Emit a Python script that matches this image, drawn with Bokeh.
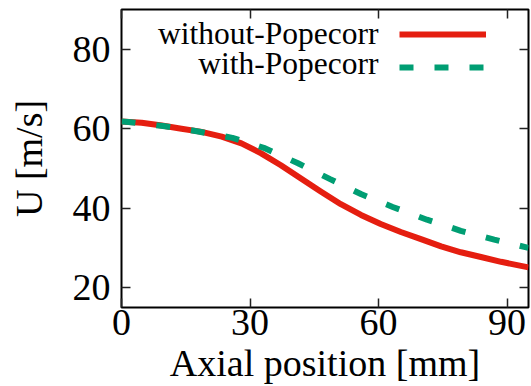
from bokeh.plotting import figure
from bokeh.models import Range1d, LinearAxis, FixedTicker, Label, Legend, LegendItem
from bokeh.embed import file_html
from bokeh.resources import INLINE

# data
x_without = [0, 4.7, 9.4, 14.0, 18.7, 23.4, 28.0, 32.6, 37.2, 41.8, 46.5, 51.2,
             55.9, 60.5, 65.2, 69.9, 74.6, 79.2, 83.9, 88.6, 95.0]
u_without = [61.8, 61.5, 60.8, 60.0, 59.2, 58.0, 56.3, 53.8, 50.8, 47.5, 44.2, 41.0,
             38.3, 36.0, 34.0, 32.2, 30.4, 28.9, 27.7, 26.5, 25.1]
x_with = [0, 1.6, 9.7, 17.9, 25.9, 33.2, 41.2, 48.7, 56.0, 63.3, 71.3, 79.2, 87.0, 95.0]
u_with = [61.8, 61.7, 60.7, 59.3, 57.7, 55.2, 51.3, 47.3, 43.5, 40.3, 37.1, 34.3, 32.1, 30.0]
x_ticks = [0, 30, 60, 90]
y_ticks = [20, 40, 60, 80]
series_names = ["without-Popecorr", "with-Popecorr"]

RED = "#e51e10"
GREEN = "#009e73"
FONT = "Liberation Serif"

p = figure(width=531, height=386, output_backend="svg", toolbar_location=None,
           x_range=Range1d(0, 95), y_range=Range1d(15, 90),
           min_border_left=121, min_border_right=3, min_border_top=9, min_border_bottom=77)
p.grid.visible = False
p.outline_line_color = "black"
p.outline_line_width = 2
p.background_fill_color = "white"
p.border_fill_color = "white"

for ax, ticks in ((p.xaxis[0], x_ticks), (p.yaxis[0], y_ticks)):
    ax.ticker = FixedTicker(ticks=ticks)
    ax.major_tick_in = 9
    ax.major_tick_out = 0
    ax.minor_tick_line_color = None
    ax.axis_line_color = None
    ax.major_tick_line_color = "#222222"
    ax.major_tick_line_width = 1.5
    ax.major_label_text_font = FONT
    ax.major_label_text_font_size = "38px"
    ax.major_label_text_color = "black"
    ax.axis_label_text_font = FONT
    ax.axis_label_text_font_style = "normal"
    ax.axis_label_text_font_size = "38px"
    ax.axis_label_text_color = "black"

p.xaxis.axis_label = "Axial position [mm]"
p.yaxis.axis_label = "U [m/s]"
p.xaxis.major_label_standoff = 2
p.xaxis.axis_label_standoff = 4
p.yaxis.major_label_standoff = 11
p.yaxis.axis_label_standoff = 20

# mirrored ticks
for loc, ticks in (("above", x_ticks), ("right", y_ticks)):
    ax = LinearAxis(ticker=FixedTicker(ticks=ticks))
    ax.major_tick_in = 9
    ax.major_tick_out = 0
    ax.minor_tick_line_color = None
    ax.axis_line_color = None
    ax.major_tick_line_color = "#222222"
    ax.major_tick_line_width = 1.5
    ax.major_label_text_font_size = "0px"
    ax.major_label_standoff = 0
    ax.major_label_text_alpha = 0
    p.add_layout(ax, loc)

r1 = p.line(x_without, u_without, line_color=RED, line_width=6, line_join="round")
r2 = p.line(x_with, u_with, line_color=GREEN, line_width=6, line_dash="14 21")

legend = Legend(items=[LegendItem(label=" ", renderers=[r1]),
                       LegendItem(label=" ", renderers=[r2])],
                location=(278, 230), orientation="vertical",
                glyph_width=87, glyph_height=20, label_height=20, label_width=1,
                label_text_font_size="1px", spacing=13, padding=0, margin=0,
                border_line_color=None, background_fill_alpha=0)
p.add_layout(legend, "center")

for name, yy in zip(series_names, (274, 244)):
    p.add_layout(Label(x=257, y=yy, x_units="screen", y_units="screen", text=name,
                       text_align="right", text_baseline="middle",
                       text_font=FONT, text_font_size="31.5px", text_color="black"))

open("out.html", "w").write(file_html(p, INLINE))
